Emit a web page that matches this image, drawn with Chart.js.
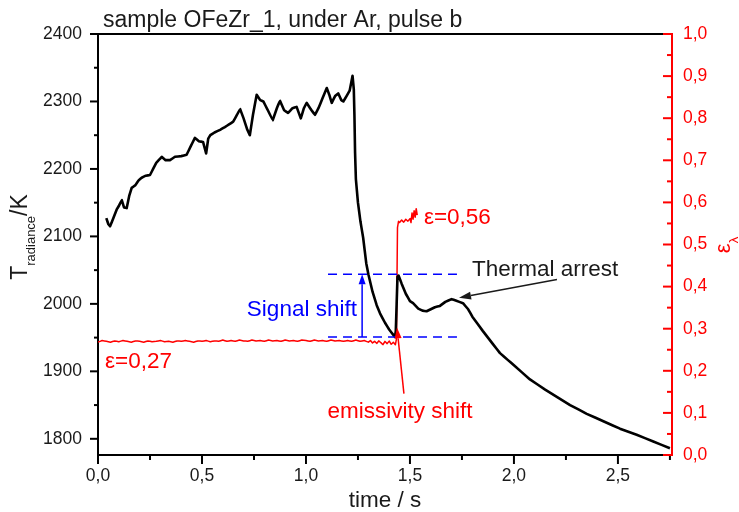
<!DOCTYPE html>
<html><head><meta charset="utf-8">
<script src="https://cdn.jsdelivr.net/npm/chart.js@4/dist/chart.umd.min.js"></script>
<style>html,body{margin:0;padding:0;background:#fff}canvas{display:block}</style>
</head><body>
<canvas id="c" width="739" height="512"></canvas>
<script>
// ---- data ----
const tempTime = [0.040,0.050,0.058,0.075,0.090,0.100,0.114,0.125,0.138,0.150,0.162,0.180,0.195,0.210,0.230,0.250,0.265,0.280,0.295,0.306,0.325,0.346,0.370,0.400,0.426,0.445,0.466,0.485,0.505,0.520,0.530,0.540,0.560,0.587,0.610,0.630,0.650,0.668,0.683,0.700,0.718,0.730,0.745,0.763,0.780,0.795,0.815,0.840,0.860,0.875,0.895,0.914,0.935,0.955,0.975,0.990,1.003,1.020,1.043,1.060,1.080,1.100,1.112,1.124,1.140,1.155,1.170,1.180,1.195,1.210,1.224,1.230,1.233,1.236,1.240,1.250,1.262,1.275,1.290,1.300,1.320,1.340,1.356,1.380,1.400,1.420,1.428,1.432,1.440,1.445,1.460,1.480,1.500,1.515,1.540,1.560,1.580,1.600,1.620,1.644,1.670,1.700,1.720,1.755,1.780,1.800,1.850,1.900,1.933,1.970,2.000,2.077,2.150,2.270,2.350,2.430,2.510,2.590,2.670,2.750];
const tempValues = [2127,2118,2115,2128,2140,2145,2154,2143,2142,2160,2172,2176,2183,2187,2190,2191,2200,2209,2214,2218,2213,2213,2218,2219,2221,2233,2246,2241,2240,2223,2245,2250,2254,2258,2262,2266,2270,2280,2289,2275,2258,2250,2280,2310,2302,2300,2288,2272,2290,2301,2287,2283,2290,2292,2275,2290,2298,2290,2280,2290,2305,2320,2310,2298,2308,2312,2302,2300,2308,2316,2338,2318,2280,2225,2185,2150,2122,2098,2060,2044,2018,1998,1986,1972,1962,1954,1951,1960,2040,2042,2030,2015,2004,2001,1993,1990,1989,1992,1995,1997,2003,2007,2005,2001,1992,1981,1960,1940,1927,1917,1909,1888,1873,1850,1837,1826,1815,1806,1796,1786];
const emisTime = [0.00,0.02,0.04,0.06,0.08,0.10,0.12,0.14,0.16,0.18,0.20,0.22,0.24,0.26,0.28,0.30,0.32,0.34,0.36,0.38,0.40,0.42,0.44,0.46,0.48,0.50,0.52,0.54,0.56,0.58,0.60,0.62,0.64,0.66,0.68,0.70,0.72,0.74,0.76,0.78,0.80,0.82,0.84,0.86,0.88,0.90,0.92,0.94,0.96,0.98,1.00,1.02,1.04,1.06,1.08,1.10,1.12,1.14,1.16,1.18,1.20,1.22,1.24,1.26,1.28,1.30,1.31,1.32,1.33,1.34,1.35,1.36,1.37,1.38,1.39,1.40,1.41,1.42,1.43,1.435,1.440,1.445,1.45,1.46,1.47,1.48,1.49,1.50,1.505,1.51,1.515,1.52,1.525,1.53,1.535];
const emisValues = [0.268,0.272,0.270,0.268,0.271,0.269,0.272,0.270,0.268,0.271,0.270,0.268,0.271,0.269,0.270,0.272,0.269,0.270,0.268,0.271,0.270,0.272,0.270,0.268,0.271,0.270,0.272,0.269,0.271,0.270,0.273,0.270,0.272,0.270,0.273,0.271,0.270,0.273,0.271,0.272,0.270,0.273,0.271,0.272,0.270,0.273,0.271,0.272,0.270,0.273,0.272,0.270,0.273,0.271,0.272,0.270,0.273,0.271,0.272,0.270,0.272,0.270,0.273,0.270,0.272,0.268,0.272,0.266,0.270,0.265,0.271,0.267,0.262,0.270,0.264,0.271,0.263,0.268,0.262,0.275,0.540,0.555,0.552,0.558,0.553,0.560,0.555,0.562,0.552,0.575,0.560,0.580,0.565,0.585,0.570];
const xTicks = [0,0.5,1.0,1.5,2.0,2.5];
const xMinorTicks = [0.25,0.75,1.25,1.75,2.25,2.75];
const tTicks = [1800,1900,2000,2100,2200,2300,2400];
const tMinorTicks = [1850,1950,2050,2150,2250,2350];
const eTicks = [0,0.1,0.2,0.3,0.4,0.5,0.6,0.7,0.8,0.9,1.0];
const eMinorTicks = [0.05,0.15,0.25,0.35,0.45,0.55,0.65,0.75,0.85,0.95];

const FONT = '"Liberation Sans", Arial, sans-serif';
const comma = v => Number(v).toFixed(1).replace('.', ',');

function arrow(ctx, x1, y1, x2, y2, color, head, half) {
  ctx.save();
  ctx.strokeStyle = color; ctx.fillStyle = color; ctx.lineWidth = 1.5;
  const a = Math.atan2(y2 - y1, x2 - x1);
  const bx = x2 - head * Math.cos(a), by = y2 - head * Math.sin(a);
  ctx.beginPath(); ctx.moveTo(x1, y1); ctx.lineTo(bx, by); ctx.stroke();
  ctx.beginPath();
  ctx.moveTo(x2, y2);
  ctx.lineTo(bx + half * Math.sin(a), by - half * Math.cos(a));
  ctx.lineTo(bx - half * Math.sin(a), by + half * Math.cos(a));
  ctx.closePath(); ctx.fill();
  ctx.restore();
}

const decor = {
  id: 'decor',
  afterDraw(chart) {
    const ctx = chart.ctx, ca = chart.chartArea;
    const X = chart.scales.x, Y = chart.scales.y, E = chart.scales.e;
    ctx.save();
    // top frame
    ctx.strokeStyle = '#000'; ctx.lineWidth = 2;
    ctx.beginPath(); ctx.moveTo(ca.left - 1, ca.top); ctx.lineTo(ca.right, ca.top); ctx.stroke();
    // ticks
    const tick = (scale, vals, len, color, kind) => {
      ctx.strokeStyle = color; ctx.lineWidth = 2;
      vals.forEach(v => {
        const p = scale.getPixelForValue(v);
        ctx.beginPath();
        if (kind === 'x') { ctx.moveTo(p, ca.bottom); ctx.lineTo(p, ca.bottom + len); }
        else if (kind === 'l') { ctx.moveTo(ca.left, p); ctx.lineTo(ca.left - len, p); }
        else { ctx.moveTo(ca.right, p); ctx.lineTo(ca.right - len, p); }
        ctx.stroke();
      });
    };
    tick(X, xTicks, 9, '#000', 'x'); tick(X, xMinorTicks, 5, '#000', 'x');
    tick(Y, tTicks, 8, '#000', 'l'); tick(Y, tMinorTicks, 4, '#000', 'l');
    tick(E, eTicks, 9, '#ff0000', 'r'); tick(E, eMinorTicks, 5, '#ff0000', 'r');
    // right axis line on top
    ctx.strokeStyle = '#ff0000'; ctx.lineWidth = 2;
    ctx.beginPath(); ctx.moveTo(ca.right, ca.top - 1); ctx.lineTo(ca.right, ca.bottom + 1); ctx.stroke();

    // chart title
    ctx.fillStyle = '#1a1a1a'; ctx.font = '23px ' + FONT;
    ctx.textAlign = 'left'; ctx.textBaseline = 'alphabetic';
    ctx.fillText('sample OFeZr_1, under Ar, pulse b', 103, 27);

    // left axis title: T_radiance/K
    ctx.save();
    ctx.translate(27, 237); ctx.rotate(-Math.PI / 2);
    ctx.fillStyle = '#1a1a1a';
    ctx.font = '23px ' + FONT; const wT = ctx.measureText('T').width, wK = ctx.measureText('/K').width;
    ctx.font = '13px ' + FONT; const wS = ctx.measureText('radiance').width;
    let sx = -(wT + wS + wK) / 2;
    ctx.font = '23px ' + FONT; ctx.fillText('T', sx, 0); sx += wT;
    ctx.font = '13px ' + FONT; ctx.fillText('radiance', sx, 8); sx += wS;
    ctx.font = '23px ' + FONT; ctx.fillText('/K', sx, 0);
    ctx.restore();

    // right axis title: ε_λ
    ctx.save();
    ctx.translate(730, 245); ctx.rotate(-Math.PI / 2);
    ctx.fillStyle = '#ff0000';
    ctx.font = '22px ' + FONT; const wE = ctx.measureText('ε').width;
    ctx.font = '13px ' + FONT; const wL = ctx.measureText('λ').width;
    let rx = -(wE + wL) / 2;
    ctx.font = '22px ' + FONT; ctx.fillText('ε', rx, 0); rx += wE;
    ctx.font = '13px ' + FONT; ctx.fillText('λ', rx, 8);
    ctx.restore();

    // signal shift dashed lines
    const xa = X.getPixelForValue(1.106), xb = X.getPixelForValue(1.726);
    const yUp = Y.getPixelForValue(2044), yLo = Y.getPixelForValue(1951);
    ctx.strokeStyle = '#0000ff'; ctx.lineWidth = 1.5; ctx.setLineDash([9, 6]);
    ctx.beginPath(); ctx.moveTo(xa, yUp); ctx.lineTo(xb, yUp); ctx.stroke();
    ctx.beginPath(); ctx.moveTo(xa, yLo); ctx.lineTo(xb, yLo); ctx.stroke();
    ctx.setLineDash([]);
    const xs = X.getPixelForValue(1.27);
    arrow(ctx, xs, yLo, xs, yUp, '#0000ff', 10, 3.5);

    ctx.font = '22.5px ' + FONT; ctx.textBaseline = 'middle';
    ctx.fillStyle = '#0000ff'; ctx.textAlign = 'right';
    ctx.fillText('Signal shift', X.getPixelForValue(1.245), Y.getPixelForValue(1991));

    ctx.fillStyle = '#ff0000'; ctx.textAlign = 'left';
    ctx.fillText('ε=0,27', X.getPixelForValue(0.034), E.getPixelForValue(0.222));
    ctx.fillText('ε=0,56', X.getPixelForValue(1.567), E.getPixelForValue(0.563));
    ctx.textAlign = 'center';
    ctx.fillText('emissivity shift', X.getPixelForValue(1.452), Y.getPixelForValue(1840));
    arrow(ctx, X.getPixelForValue(1.471), Y.getPixelForValue(1867), X.getPixelForValue(1.4375), Y.getPixelForValue(1965), '#ff0000', 11, 3.5);

    ctx.fillStyle = '#1a1a1a'; ctx.textAlign = 'left';
    ctx.fillText('Thermal arrest', X.getPixelForValue(1.798), Y.getPixelForValue(2050));
    arrow(ctx, X.getPixelForValue(2.207), Y.getPixelForValue(2036), X.getPixelForValue(1.736), Y.getPixelForValue(2009), '#1a1a1a', 12, 4);
    ctx.restore();
  }
};

const tickFont = { family: FONT, size: 17.5 };

new Chart(document.getElementById('c'), {
  type: 'line',
  data: {
    datasets: [
      { label: 'T', yAxisID: 'y', data: tempTime.map((t, i) => ({ x: t, y: tempValues[i] })),
        borderColor: '#000', borderWidth: 2.6, borderJoinStyle: 'round', pointRadius: 0, tension: 0.001, fill: false },
      { label: 'eps', yAxisID: 'e', data: emisTime.map((t, i) => ({ x: t, y: emisValues[i] })),
        borderColor: '#ff0000', borderWidth: 1.5, borderJoinStyle: 'round', pointRadius: 0, tension: 0.001, fill: false }
    ]
  },
  options: {
    responsive: false, animation: false, devicePixelRatio: 1,
    layout: { padding: { top: 34, left: 0, right: 0, bottom: 0 } },
    plugins: { legend: { display: false }, tooltip: { enabled: false }, title: { display: false } },
    scales: {
      x: {
        type: 'linear', position: 'bottom', min: 0, max: 2.76,
        afterBuildTicks: s => { s.ticks = xTicks.map(v => ({ value: v })); },
        afterFit: s => { s.height = 57; },
        ticks: { font: tickFont, color: '#1a1a1a', padding: 11, maxRotation: 0, autoSkip: false, callback: v => comma(v) },
        grid: { display: true, drawOnChartArea: false, drawTicks: false },
        border: { display: true, color: '#000', width: 2 },
        title: { display: true, text: 'time / s', color: '#1a1a1a', font: { family: FONT, size: 22.5, lineHeight: 1 }, padding: { top: 0, bottom: 0 } }
      },
      y: {
        type: 'linear', position: 'left', min: 1776, max: 2400,
        afterBuildTicks: s => { s.ticks = tTicks.map(v => ({ value: v })); },
        afterFit: s => { s.width = 98; },
        ticks: { font: tickFont, color: '#1a1a1a', padding: 16, callback: v => String(v) },
        grid: { display: true, drawOnChartArea: false, drawTicks: false },
        border: { display: true, color: '#000', width: 2 }
      },
      e: {
        type: 'linear', position: 'right', min: 0, max: 1,
        afterBuildTicks: s => { s.ticks = eTicks.map(v => ({ value: v })); },
        afterFit: s => { s.width = 67; },
        ticks: { font: tickFont, color: '#ff0000', padding: 11, callback: v => comma(v) },
        grid: { display: true, drawOnChartArea: false, drawTicks: false },
        border: { display: true, color: '#ff0000', width: 2 }
      }
    }
  },
  plugins: [decor]
});
</script>
</body></html>
